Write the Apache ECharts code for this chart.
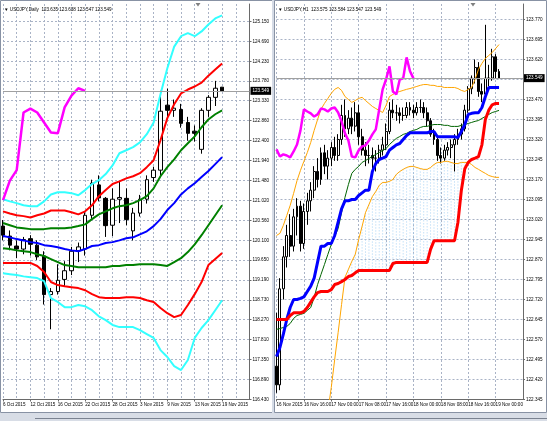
<!DOCTYPE html>
<html>
<head>
<meta charset="utf-8">
<script src="https://cdn.jsdelivr.net/npm/echarts@6/dist/echarts.min.js"></script>
<style>
html,body{margin:0;padding:0;background:#fff;}
#chart{width:547px;height:421px;}
</style>
</head>
<body>
<div id="chart"></div>
<script>
// ---------- USDJPY Daily ----------
const dayLabels = ['6 Oct 2015','12 Oct 2015','16 Oct 2015','22 Oct 2015','28 Oct 2015','3 Nov 2015','9 Nov 2015','13 Nov 2015','19 Nov 2015'];
const dayTicks = ['116.430','116.890','117.350','117.810','118.270','118.730','119.190','119.650','120.100','120.560','121.020','121.480','121.940','122.400','122.860','123.330','123.780','124.230','124.690','125.150'];

const dayOpen  = [120.43,120.20,119.97,119.90,120.14,119.99,119.74,118.85,118.92,119.20,119.40,119.86,119.90,120.68,121.38,121.07,120.45,121.05,121.07,120.32,120.73,121.05,121.55,121.72,123.22,123.10,123.12,122.82,122.62,122.20,123.10,123.40,123.635];
const dayHigh  = [120.57,120.33,120.10,120.18,120.22,120.10,119.85,119.00,119.55,119.62,119.95,120.05,120.75,121.50,121.60,121.10,121.30,121.45,121.30,120.85,121.15,121.60,121.80,123.55,123.60,123.35,123.25,122.95,122.75,123.15,123.45,123.78,123.638];
const dayLow   = [120.10,119.87,119.69,119.78,119.75,119.65,118.62,118.05,118.85,119.05,119.30,119.60,119.75,120.60,121.00,120.18,120.20,120.50,120.45,120.10,120.65,120.95,121.45,121.60,122.90,122.95,122.70,122.40,122.38,122.10,122.95,123.20,123.547];
const dayClose = [120.22,119.99,119.90,120.12,120.01,119.72,118.85,118.92,119.18,119.40,119.85,119.95,120.68,121.42,121.08,120.44,121.05,121.09,120.58,120.73,121.05,121.50,121.72,123.08,123.10,123.15,122.80,122.57,122.57,123.10,123.40,123.61,123.549];

// Bollinger bands (+3, +2, +1 sigma, middle, -1, -2, -3 sigma)
const bandUp3  = [121.05,121.00,120.96,120.91,120.89,120.89,121.00,121.16,121.21,121.21,121.19,121.14,121.26,121.40,121.49,121.63,121.83,122.11,122.18,122.25,122.36,122.55,122.82,123.47,124.07,124.57,124.81,124.88,124.81,124.92,125.08,125.22,125.29];
const bandUp2  = [120.77,120.72,120.68,120.66,120.63,120.68,120.72,120.79,120.79,120.79,120.75,120.70,120.77,120.91,121.12,121.26,121.40,121.46,121.53,121.58,121.65,121.79,121.95,122.41,122.92,123.24,123.49,123.58,123.65,123.74,123.90,124.04,124.18];
const bandUp1  = [120.50,120.45,120.40,120.38,120.36,120.36,120.36,120.38,120.38,120.38,120.40,120.43,120.47,120.59,120.70,120.77,120.84,120.89,120.91,120.96,121.03,121.12,121.30,121.58,121.79,121.97,122.18,122.34,122.50,122.71,122.89,123.01,123.10];
const bandMid  = [120.20,120.17,120.13,120.10,120.06,120.04,119.99,119.97,119.94,119.90,119.87,119.85,119.90,119.97,119.99,120.04,120.06,120.10,120.15,120.17,120.24,120.31,120.43,120.59,120.80,120.96,121.16,121.30,121.42,121.56,121.70,121.86,122.02];
const bandLo1  = [119.92,119.90,119.87,119.85,119.83,119.78,119.74,119.67,119.60,119.53,119.51,119.48,119.48,119.48,119.48,119.48,119.51,119.51,119.53,119.53,119.55,119.55,119.55,119.53,119.51,119.60,119.69,119.83,120.01,120.22,120.45,120.68,120.91];
const bandLo2  = [119.58,119.58,119.58,119.58,119.58,119.51,119.37,119.14,119.07,119.04,119.02,119.00,118.95,118.86,118.79,118.77,118.77,118.77,118.79,118.79,118.77,118.72,118.68,118.54,118.42,118.33,118.38,118.61,118.86,119.14,119.53,119.67,119.81];
const bandLo3  = [119.34,119.32,119.30,119.27,119.25,119.23,119.16,118.77,118.68,118.56,118.56,118.61,118.58,118.49,118.35,118.26,118.15,118.10,118.10,118.10,118.03,117.94,117.85,117.57,117.41,117.20,117.11,117.34,117.85,118.08,118.26,118.49,118.72];
const dayLagging = [121.03,121.48,121.72,123.05,123.14,123.05,122.82,122.59,122.57,123.17,123.44,123.61,123.549];

// ---------- USDJPY H1 ----------
const hourLabels = ['16 Nov 2015','16 Nov 16:00','17 Nov 00:00','17 Nov 08:00','17 Nov 16:00','18 Nov 00:00','18 Nov 08:00','18 Nov 16:00','19 Nov 00:00'];
const hourTicks = ['122.345','122.420','122.495','122.570','122.645','122.720','122.795','122.870','122.945','123.020','123.095','123.170','123.245','123.320','123.395','123.470','123.545','123.620','123.695','123.770'];

const hourOpen  = [122.47,122.40,122.76,122.88,122.96,122.92,123.03,123.07,122.93,123.05,123.09,123.13,123.20,123.17,123.27,123.22,123.25,123.29,123.26,123.32,123.41,123.36,123.40,123.37,123.42,123.33,123.28,123.26,123.26,123.25,123.25,123.28,123.30,123.35,123.43,123.42,123.42,123.41,123.41,123.44,123.43,123.42,123.44,123.44,123.42,123.39,123.34,123.32,123.26,123.25,123.28,123.29,123.30,123.32,123.34,123.36,123.43,123.51,123.55,123.59,123.50,123.49,123.55,123.55,123.63,123.575];
const hourHigh  = [122.67,122.80,122.92,123.00,123.04,123.06,123.10,123.09,123.08,123.12,123.16,123.22,123.25,123.29,123.30,123.28,123.31,123.33,123.34,123.45,123.47,123.43,123.44,123.46,123.45,123.36,123.31,123.30,123.29,123.28,123.30,123.33,123.38,123.46,123.47,123.45,123.44,123.44,123.46,123.46,123.45,123.46,123.47,123.46,123.44,123.40,123.36,123.33,123.29,123.30,123.31,123.32,123.34,123.36,123.38,123.45,123.52,123.56,123.62,123.61,123.53,123.75,123.60,123.66,123.64,123.584];
const hourLow   = [122.37,122.38,122.72,122.84,122.88,122.90,122.96,122.90,122.91,123.00,123.05,123.10,123.14,123.15,123.19,123.17,123.22,123.24,123.24,123.30,123.33,123.34,123.34,123.35,123.30,123.26,123.22,123.23,123.21,123.20,123.23,123.26,123.28,123.34,123.40,123.39,123.38,123.39,123.40,123.41,123.40,123.41,123.42,123.40,123.37,123.33,123.30,123.24,123.23,123.24,123.26,123.25,123.20,123.30,123.32,123.35,123.42,123.49,123.53,123.48,123.46,123.47,123.52,123.54,123.55,123.547];
const hourClose = [122.40,122.76,122.88,122.96,122.92,123.03,123.07,122.93,123.05,123.09,123.13,123.20,123.17,123.27,123.22,123.25,123.29,123.26,123.32,123.41,123.36,123.40,123.37,123.42,123.33,123.28,123.26,123.26,123.25,123.25,123.28,123.30,123.35,123.43,123.42,123.42,123.41,123.41,123.44,123.43,123.42,123.44,123.44,123.42,123.39,123.34,123.32,123.26,123.25,123.28,123.29,123.30,123.32,123.34,123.36,123.43,123.51,123.55,123.59,123.50,123.49,123.55,123.55,123.63,123.575,123.549];

const tenkan = [122.506,122.54,122.59,122.645,122.69,122.72,122.72,122.724,122.73,122.75,122.77,122.80,122.86,122.92,122.92,122.93,122.93,122.96,123.01,123.06,123.09,123.09,123.095,123.095,123.11,123.12,123.13,123.13,123.20,123.23,123.245,123.25,123.256,123.28,123.29,123.30,123.305,123.32,123.335,123.345,123.345,123.345,123.345,123.345,123.345,123.35,123.35,123.33,123.33,123.33,123.33,123.33,123.33,123.327,123.35,123.376,123.414,123.418,123.42,123.42,123.44,123.48,123.515,123.515,123.515,123.515];
const kijun = [122.645,122.645,122.645,122.645,122.66,122.67,122.67,122.67,122.675,122.69,122.71,122.73,122.746,122.75,122.75,122.75,122.757,122.776,122.78,122.787,122.795,122.806,122.81,122.82,122.829,122.829,122.829,122.829,122.829,122.829,122.829,122.829,122.829,122.829,122.855,122.859,122.859,122.859,122.859,122.859,122.859,122.859,122.859,122.859,122.859,122.908,122.94,122.94,122.94,122.94,122.94,122.94,122.94,123.01,123.13,123.21,123.234,123.245,123.25,123.256,123.30,123.395,123.43,123.45,123.455,123.455];
const hourMa = [122.608,122.611,122.615,122.619,122.63,122.649,122.66,122.664,122.668,122.679,122.69,122.728,122.776,122.814,122.851,122.889,122.926,122.956,122.986,123.046,123.103,123.151,123.193,123.208,123.219,123.234,123.241,123.249,123.256,123.264,123.271,123.279,123.286,123.301,123.313,123.324,123.331,123.339,123.343,123.35,123.354,123.358,123.365,123.369,123.369,123.373,123.376,123.376,123.376,123.373,123.373,123.369,123.369,123.369,123.373,123.376,123.38,123.384,123.388,123.391,123.399,123.406,123.414,123.421,123.425,123.429];
const envUpper = [122.96,122.968,122.998,123.035,123.073,123.118,123.166,123.204,123.238,123.271,123.309,123.354,123.395,123.433,123.455,123.474,123.493,123.508,123.515,123.504,123.481,123.47,123.459,123.466,123.474,123.478,123.466,123.455,123.444,123.436,123.429,123.421,123.448,123.481,123.489,123.496,123.50,123.504,123.508,123.511,123.515,123.519,123.523,123.526,123.526,123.523,123.523,123.519,123.519,123.515,123.515,123.515,123.515,123.511,123.504,123.50,123.508,123.515,123.545,123.583,123.605,123.624,123.635,123.646,123.661,123.676];
const envLower = [null,null,null,null,null,null,null,null,null,null,null,null,null,null,null,122.30,122.39,122.495,122.596,122.701,122.803,122.833,122.863,122.889,122.945,122.994,123.046,123.076,123.106,123.125,123.148,123.159,123.159,123.163,123.17,123.189,123.20,123.208,123.215,123.219,123.219,123.215,123.211,123.208,123.208,123.215,123.226,123.234,123.234,123.238,123.238,123.234,123.23,123.23,123.234,123.234,123.234,123.226,123.215,123.208,123.20,123.193,123.185,123.181,123.178,123.178];
const hourLagging = [123.283,123.256,123.264,123.26,123.253,123.275,123.301,123.354,123.433,123.425,123.418,123.406,123.414,123.436,123.433,123.425,123.436,123.44,123.421,123.388,123.343,123.316,123.256,123.253,123.279,123.294,123.298,123.316,123.339,123.358,123.433,123.508,123.545,123.594,123.50,123.489,123.545,123.549,123.628,123.576,123.549];

const lastPrice = 123.549;

// ---------- helpers ----------
const FONT = 'Liberation Sans';
function makeCats(count, labels, step) {
  const out = [];
  for (let i = 0; i < count; i++) {
    const k = i / step;
    out.push(i % step === 0 && k < labels.length ? labels[k] : '#' + i);
  }
  return out;
}
function ohlc(o, h, l, c) {
  return o.map((v, i) => [v, c[i], l[i], h[i]]);
}
function lineSeries(name, data, color, width, xi, extra) {
  return Object.assign({
    name, type: 'line', data, xAxisIndex: xi, yAxisIndex: xi,
    symbol: 'none', smooth: false, z: 4, animation: false,
    lineStyle: { color, width }, connectNulls: false
  }, extra || {});
}
function priceMark(text) {
  return {
    symbol: 'none', silent: true, animation: false,
    data: [{ yAxis: lastPrice }],
    lineStyle: { color: '#a0a0a0', width: 1, type: 'solid' },
    label: {
      position: 'end', distance: 1, formatter: text,
      backgroundColor: '#000', color: '#fff', fontSize: 4.6, fontFamily: FONT,
      padding: [2, 2, 1, 2]
    }
  };
}

const dayCats = makeCats(37, dayLabels, 4);
const hourCats = makeCats(73, hourLabels, 8);

const gridLine = { show: true, lineStyle: { color: '#a9b3c6', width: 1, type: [2, 2] } };

function xAxisFor(gi, cats, step, gridStep) {
  return {
    type: 'category', gridIndex: gi, data: cats, boundaryGap: false,
    axisLine: { show: true, lineStyle: { color: '#6a6a6a', width: 1 } },
    axisTick: { show: true, length: 2, inside: false, lineStyle: { color: '#6a6a6a' },
      interval: (i, v) => v.charAt(0) !== '#' },
    axisLabel: { show: true, interval: (i, v) => v.charAt(0) !== '#', align: 'left',
      margin: 3, fontSize: 4.6, color: '#000', fontFamily: FONT, showMinLabel: true, showMaxLabel: true,
      hideOverlap: false },
    splitLine: Object.assign({ interval: (i) => i % gridStep === 0 }, gridLine)
  };
}
function yAxisFor(gi, ticks, min, max) {
  const vals = ticks.map(Number);
  return {
    type: 'value', gridIndex: gi, position: 'right', min, max, scale: true,
    axisLine: { show: true, lineStyle: { color: '#6a6a6a', width: 1 } },
    axisTick: { show: true, length: 2, customValues: vals, lineStyle: { color: '#6a6a6a' } },
    axisLabel: { show: true, customValues: vals, formatter: (v) => v.toFixed(3), margin: 3,
      fontSize: 4.6, color: '#000', fontFamily: FONT, hideOverlap: false },
    splitLine: gridLine
  };
}

// Hatched cloud between the lower envelope and the kijun line (dotted vertical strokes per bar)
const cloudData = envLower.map((v, i) => [i, v == null ? NaN : v, kijun[i]]);
function renderCloud(params, api) {
  const top = api.value(1), bottom = api.value(2);
  if (!(top > bottom)) return null;
  const a = api.coord([api.value(0), top]);
  const b = api.coord([api.value(0), bottom]);
  return {
    type: 'line',
    shape: { x1: a[0], y1: a[1], x2: b[0], y2: b[1] },
    style: { stroke: '#a6d2f4', lineWidth: 1, lineDash: [1, 2] },
    silent: true
  };
}

const option = {
  animation: false,
  backgroundColor: '#ffffff',
  grid: [
    { left: 2.5, top: 4, width: 247, height: 395.5, containLabel: false, show: false },
    { left: 276.5, top: 4, width: 246.5, height: 395.5, containLabel: false, show: false }
  ],
  xAxis: [xAxisFor(0, dayCats, 4, 2), xAxisFor(1, hourCats, 8, 8)],
  yAxis: [yAxisFor(0, dayTicks, 116.43, 125.553), yAxisFor(1, hourTicks, 122.345, 123.828)],
  series: [
    {
      name: 'USDJPY Daily', type: 'candlestick', xAxisIndex: 0, yAxisIndex: 0,
      data: ohlc(dayOpen, dayHigh, dayLow, dayClose), barWidth: 4, clip: false, z: 2,
      itemStyle: { color: '#ffffff', color0: '#000000', borderColor: '#000000', borderColor0: '#000000', borderWidth: 1 },
      markLine: priceMark('123.549')
    },
    lineSeries('+3σ', bandUp3, '#33ffff', 2, 0),
    lineSeries('+2σ', bandUp2, '#ff0000', 2, 0),
    lineSeries('+1σ', bandUp1, '#008000', 2, 0),
    lineSeries('MA', bandMid, '#0000ff', 2, 0),
    lineSeries('-1σ', bandLo1, '#008000', 2, 0),
    lineSeries('-2σ', bandLo2, '#ff0000', 2, 0),
    lineSeries('-3σ', bandLo3, '#33ffff', 2, 0),
    lineSeries('Chikou', dayLagging, '#ff00ff', 2.5, 0),

    {
      name: 'Cloud', type: 'custom', xAxisIndex: 1, yAxisIndex: 1, z: 1,
      data: cloudData, renderItem: renderCloud, encode: { x: 0, y: [1, 2] }, silent: true
    },
    {
      name: 'USDJPY H1', type: 'candlestick', xAxisIndex: 1, yAxisIndex: 1,
      data: ohlc(hourOpen, hourHigh, hourLow, hourClose), barWidth: 2.4, clip: false, z: 2,
      itemStyle: { color: '#ffffff', color0: '#000000', borderColor: '#000000', borderColor0: '#000000', borderWidth: 1 },
      markLine: priceMark('123.549')
    },
    lineSeries('Envelope+', envUpper, '#ffa500', 1, 1),
    lineSeries('Envelope-', envLower, '#ffa500', 1, 1),
    lineSeries('MA H1', hourMa, '#006400', 1, 1),
    lineSeries('Tenkan', tenkan, '#0000ff', 3, 1),
    lineSeries('Kijun', kijun, '#ff0000', 3, 1),
    lineSeries('Chikou H1', hourLagging, '#ff00ff', 2.5, 1)
  ],
  graphic: [
    // window frames
    { type: 'rect', shape: { x: 0.5, y: 0.5, width: 272, height: 412 }, style: { fill: 'none', stroke: '#8892a4', lineWidth: 1 }, z: 100 },
    { type: 'rect', shape: { x: 272, y: 0, width: 3, height: 413 }, style: { fill: '#d5dbe6' }, z: 100 },
    { type: 'rect', shape: { x: 274.5, y: 0.5, width: 272, height: 412 }, style: { fill: 'none', stroke: '#8892a4', lineWidth: 1 }, z: 100 },
    { type: 'rect', shape: { x: 0, y: 413, width: 547, height: 8 }, style: { fill: '#d8dde6' }, z: 100 },
    { type: 'line', shape: { x1: 35, y1: 418.5, x2: 547, y2: 418.5 }, style: { stroke: '#7a8290', lineWidth: 1 }, z: 101 },
    // chart captions
    { type: 'text', left: 4, top: 7, style: { text: '▼ USDJPY,Daily  123.635 123.638 123.547 123.549', fontSize: 4.6, fontFamily: FONT, fill: '#000' }, z: 100 },
    { type: 'text', left: 278, top: 7, style: { text: '▼ USDJPY,H1  123.575 123.584 123.547 123.549', fontSize: 4.6, fontFamily: FONT, fill: '#000' }, z: 100 },
    // shift markers
    { type: 'polygon', shape: { points: [[195.5, 3], [200.5, 3], [198, 6.5]] }, style: { fill: '#808080' }, z: 100 },
    { type: 'polygon', shape: { points: [[470.5, 3], [475.5, 3], [473, 6.5]] }, style: { fill: '#808080' }, z: 100 }
  ]
};

const chart = echarts.init(document.getElementById('chart'), null, { renderer: 'canvas' });
chart.setOption(option);
</script>
</body>
</html>
